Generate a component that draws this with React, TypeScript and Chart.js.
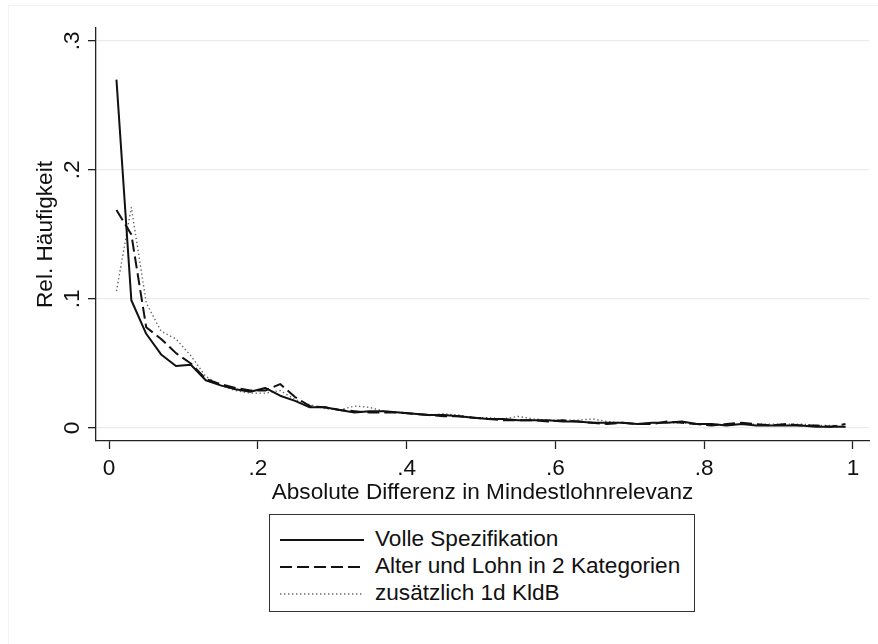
import { useEffect, useRef } from "react";
import { Chart, registerables } from "chart.js";

Chart.register(...registerables);

// Bin centres of the absolute difference (bin width 0.02)
const binCenters = [
  0.01, 0.03, 0.05, 0.07, 0.09, 0.11, 0.13, 0.15, 0.17, 0.19,
  0.21, 0.23, 0.25, 0.27, 0.29, 0.31, 0.33, 0.35, 0.37, 0.39,
  0.41, 0.43, 0.45, 0.47, 0.49, 0.51, 0.53, 0.55, 0.57, 0.59,
  0.61, 0.63, 0.65, 0.67, 0.69, 0.71, 0.73, 0.75, 0.77, 0.79,
  0.81, 0.83, 0.85, 0.87, 0.89, 0.91, 0.93, 0.95, 0.97, 0.99,
];

// Relative frequencies per specification
const volleSpezifikation = [
  0.270, 0.099, 0.073, 0.057, 0.048, 0.049, 0.037, 0.033, 0.030, 0.028,
  0.031, 0.025, 0.021, 0.016, 0.016, 0.014, 0.012, 0.013, 0.013, 0.012,
  0.011, 0.010, 0.010, 0.009, 0.008, 0.007, 0.007, 0.006, 0.006, 0.006,
  0.005, 0.005, 0.004, 0.004, 0.004, 0.003, 0.004, 0.004, 0.005, 0.003,
  0.003, 0.002, 0.003, 0.002, 0.002, 0.002, 0.002, 0.001, 0.001, 0.001,
];

const alterLohnZweiKategorien = [
  0.169, 0.150, 0.078, 0.069, 0.058, 0.050, 0.038, 0.034, 0.031, 0.029,
  0.029, 0.034, 0.024, 0.017, 0.016, 0.014, 0.013, 0.012, 0.012, 0.012,
  0.011, 0.010, 0.009, 0.009, 0.008, 0.007, 0.006, 0.006, 0.006, 0.005,
  0.006, 0.005, 0.004, 0.003, 0.004, 0.003, 0.003, 0.005, 0.004, 0.003,
  0.002, 0.003, 0.004, 0.003, 0.002, 0.003, 0.002, 0.002, 0.001, 0.003,
];

const zusaetzlichKldB = [
  0.106, 0.171, 0.097, 0.075, 0.069, 0.056, 0.040, 0.033, 0.029, 0.027,
  0.027, 0.029, 0.022, 0.018, 0.015, 0.014, 0.017, 0.016, 0.013, 0.012,
  0.011, 0.010, 0.011, 0.010, 0.008, 0.008, 0.007, 0.009, 0.007, 0.006,
  0.006, 0.006, 0.007, 0.005, 0.004, 0.003, 0.004, 0.004, 0.004, 0.003,
  0.003, 0.002, 0.003, 0.003, 0.003, 0.003, 0.003, 0.002, 0.002, 0.001,
];

const seriesNames = [
  "Volle Spezifikation",
  "Alter und Lohn in 2 Kategorien",
  "zusätzlich 1d KldB",
];

const xTickValues = [0, 0.2, 0.4, 0.6, 0.8, 1];
const xTickLabels = ["0", ".2", ".4", ".6", ".8", "1"];
const yTickValues = [0, 0.1, 0.2, 0.3];
const yTickLabels = ["0", ".1", ".2", ".3"];

const xTitle = "Absolute Differenz in Mindestlohnrelevanz";
const yTitle = "Rel. Häufigkeit";

const FONT_FAMILY = "'Liberation Sans', Arial, Helvetica, sans-serif";
const FONT_SIZE = 22.6;
const TEXT = "#111111";
const AXIS = "#222222";

const lineStyles = [
  { color: "#111111", width: 2, dash: [] as number[] },
  { color: "#111111", width: 2, dash: [12, 5] },
  { color: "#666666", width: 1.4, dash: [1.4, 2.6] },
];

const toPoints = (ys: number[]) => binCenters.map((x, i) => ({ x, y: ys[i] }));

export default function App() {
  const canvasRef = useRef<HTMLCanvasElement | null>(null);

  useEffect(() => {
    const canvas = canvasRef.current;
    if (!canvas) return;
    const font = { family: FONT_FAMILY, size: FONT_SIZE };
    const series = [volleSpezifikation, alterLohnZweiKategorien, zusaetzlichKldB];

    const chart = new Chart(canvas, {
      type: "line",
      data: {
        datasets: series.map((ys, i) => ({
          label: seriesNames[i],
          data: toPoints(ys),
          borderColor: lineStyles[i].color,
          borderWidth: lineStyles[i].width,
          borderDash: lineStyles[i].dash,
          pointRadius: 0,
          fill: false,
          tension: 0,
          borderJoinStyle: "round" as const,
        })),
      },
      options: {
        responsive: false,
        animation: false,
        events: [],
        layout: { padding: { left: 0, right: 9, top: 28, bottom: 0 } },
        plugins: {
          legend: { display: false },
          tooltip: { enabled: false },
        },
        scales: {
          x: {
            type: "linear",
            min: -0.0175,
            max: 1.0216,
            afterBuildTicks: (s: any) => {
              s.ticks = xTickValues.map((value) => ({ value }));
            },
            afterFit: (s: any) => {
              s.height = 203;
            },
            grid: {
              drawOnChartArea: false,
              drawTicks: true,
              tickLength: 8,
              tickColor: AXIS,
              tickWidth: 1.3,
            },
            border: { display: true, color: AXIS, width: 1.3 },
            ticks: {
              autoSkip: false,
              maxRotation: 0,
              minRotation: 0,
              padding: 6,
              color: TEXT,
              font,
              callback: (v: any) => xTickLabels[xTickValues.indexOf(Number(v))] ?? "",
            },
            title: {
              display: true,
              text: xTitle,
              color: TEXT,
              font,
              padding: { top: 0, bottom: 138 },
            },
          },
          y: {
            type: "linear",
            min: -0.0101,
            max: 0.31,
            afterBuildTicks: (s: any) => {
              s.ticks = yTickValues.map((value) => ({ value }));
            },
            afterFit: (s: any) => {
              s.width = 96;
            },
            grid: {
              color: "#e6edf2",
              lineWidth: 1.3,
              drawTicks: true,
              tickLength: 8,
              tickColor: AXIS,
              tickWidth: 1.3,
            },
            border: { display: true, color: AXIS, width: 1.3 },
            ticks: {
              autoSkip: false,
              minRotation: 90,
              maxRotation: 90,
              crossAlign: "center",
              padding: 6,
              color: TEXT,
              font,
              callback: (v: any) => yTickLabels[yTickValues.indexOf(Number(v))] ?? "",
            },
            title: {
              display: true,
              text: yTitle,
              color: TEXT,
              font,
              padding: { top: 32, bottom: 0 },
            },
          },
        },
      } as any,
    });

    return () => chart.destroy();
  }, []);

  const rowCenters = [25, 52, 79];

  return (
    <div
      style={{
        position: "absolute",
        left: 0,
        top: 0,
        width: 878,
        height: 644,
        background: "#ffffff",
        overflow: "hidden",
      }}
    >
      <div
        style={{
          position: "absolute",
          left: 8,
          top: 5,
          right: 0,
          bottom: 0,
          borderLeft: "1px solid #f3f3f3",
          borderTop: "1px solid #f3f3f3",
        }}
      />
      <canvas
        ref={canvasRef}
        width={878}
        height={644}
        style={{ position: "absolute", left: 0, top: 0, display: "block" }}
      />
      <div
        style={{
          position: "absolute",
          left: 269,
          top: 514,
          width: 426,
          height: 98,
          boxSizing: "border-box",
          border: "1px solid #333333",
          background: "#ffffff",
          fontFamily: FONT_FAMILY,
          fontSize: FONT_SIZE,
          color: TEXT,
        }}
      >
        {seriesNames.map((name, i) => (
          <div
            key={name}
            style={{
              position: "absolute",
              left: 0,
              top: rowCenters[i] - 14,
              height: 28,
              width: "100%",
            }}
          >
            <svg
              width={90}
              height={28}
              style={{ position: "absolute", left: 8, top: 0 }}
            >
              <line
                x1={2}
                y1={14}
                x2={86}
                y2={14}
                stroke={lineStyles[i].color}
                strokeWidth={lineStyles[i].width}
                strokeDasharray={lineStyles[i].dash.length ? lineStyles[i].dash.join(" ") : undefined}
              />
            </svg>
            <span
              style={{
                position: "absolute",
                left: 105,
                top: -1,
                lineHeight: "28px",
                whiteSpace: "nowrap",
              }}
            >
              {name}
            </span>
          </div>
        ))}
      </div>
    </div>
  );
}
